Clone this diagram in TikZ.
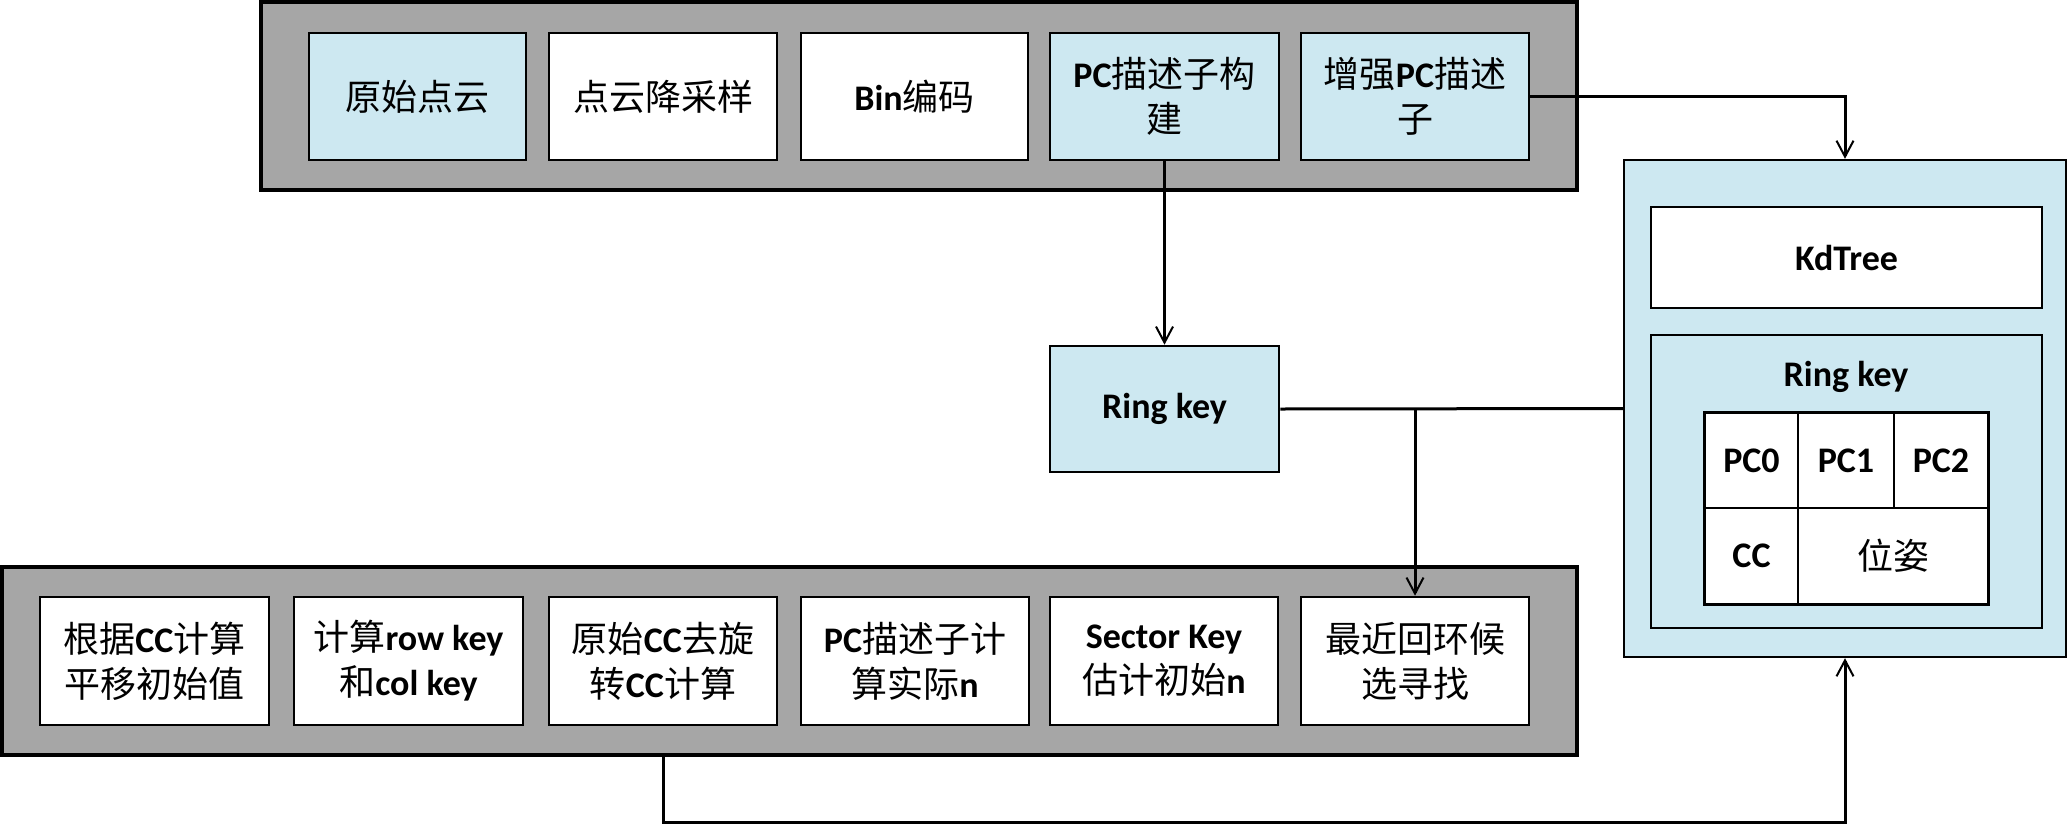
\documentclass[tikz,border=0pt]{standalone}
\usepackage{fontspec}
\setmainfont{Carlito}
\newfontfamily\cjk{Noto Sans CJK SC}
\usetikzlibrary{arrows.meta}
\definecolor{lblue}{RGB}{205,232,241}
\definecolor{pgray}{RGB}{166,166,166}
\newcommand{\zh}[1]{{\cjk\mdseries #1}}
\tikzset{
  base/.style={draw=black, line width=2.6pt, inner sep=0pt, align=center,
    font=\fontsize{36}{45}\selectfont\bfseries},
  bluebox/.style={base, fill=lblue},
  whitebox/.style={base, fill=white},
  panel/.style={draw=black, line width=3.8pt, fill=pgray, inner sep=0pt},
  cell/.style={draw=black, line width=2pt, fill=white, inner sep=0pt,
    font=\fontsize{36}{45}\selectfont\bfseries},
  conn/.style={draw=black, line width=3pt},
  arr/.style={conn, -{Straight Barb[length=16pt,width=17pt,line width=2pt]}},
}
\begin{document}
\begin{tikzpicture}[x=1pt,y=-1pt]
\useasboundingbox (0,0) rectangle (2069,825);
% top panel
\node[panel, minimum width=1316, minimum height=188] (tp) at (919,96) {};
\node[bluebox, minimum width=217, minimum height=127] (b1) at (417.5,96.5) {\zh{原始点云}};
\node[whitebox, minimum width=228, minimum height=127] (b2) at (663,96.5) {\zh{点云降采样}};
\node[whitebox, minimum width=227, minimum height=127] (b3) at (914.5,96.5) {Bin\zh{编码}};
\node[bluebox, minimum width=229, minimum height=127] (b4) at (1164.5,96.5) {PC\zh{描述子构}\\\zh{建}};
\node[bluebox, minimum width=228, minimum height=127] (b5) at (1415,96.5) {\zh{增强}PC\zh{描述}\\\zh{子}};
% middle ring key
\node[bluebox, minimum width=229, minimum height=126] (rk) at (1164.5,409) {Ring key};
% right panel
\node[draw=black, line width=2.4pt, fill=lblue, inner sep=0pt, minimum width=442, minimum height=497] (rp) at (1845,408.5) {};
\node[whitebox, minimum width=391, minimum height=101] (kd) at (1846.5,257.5) {KdTree};
\node[draw=black, line width=2.8pt, fill=lblue, inner sep=0pt, minimum width=391, minimum height=293] (ir) at (1846.5,481.5) {};
\node[font=\fontsize{36}{45}\selectfont\bfseries] (irl) at (1846,377) {Ring key};
\node[cell, minimum width=93, minimum height=95] (pc0) at (1751.5,460.5) {PC0};
\node[cell, minimum width=96, minimum height=95] (pc1) at (1846,460.5) {PC1};
\node[cell, minimum width=94, minimum height=95] (pc2) at (1941,460.5) {PC2};
\node[cell, minimum width=93, minimum height=96] (cc) at (1751.5,556) {CC};
\node[cell, minimum width=190, minimum height=96] (pose) at (1893,556) {\zh{位姿}};
\draw[line width=2.6pt] (pc0.north west) rectangle (pose.south east);
% bottom panel
\node[panel, minimum width=1575, minimum height=188] (bp) at (789.5,661) {};
\node[whitebox, minimum width=229, minimum height=128] (c1) at (154.5,661) {\zh{根据}CC\zh{计算}\\\zh{平移初始值}};
\node[whitebox, minimum width=229, minimum height=128] (c2) at (408.5,661) {\zh{计算}row key\\\zh{和}col key};
\node[whitebox, minimum width=228, minimum height=128] (c3) at (663,661) {\zh{原始}CC\zh{去旋}\\\zh{转}CC\zh{计算}};
\node[whitebox, minimum width=228, minimum height=128] (c4) at (915,661) {PC\zh{描述子计}\\\zh{算实际}n};
\node[whitebox, minimum width=228, minimum height=128] (c5) at (1164,661) {Sector Key\\\zh{估计初始}n};
\node[whitebox, minimum width=228, minimum height=128] (c6) at (1415,661) {\zh{最近回环候}\\\zh{选寻找}};
% connectors
\draw[arr] (b5.east) -| (rp.north);
\draw[arr] (b4.south) -- (rk.north);
\draw[conn] (rk.east) -- (rp.west);
\draw[arr] (rk.east -| c6.north) -- (c6.north);
\coordinate (lowy) at (0,822);
\draw[arr] (bp.south -| c3.south) -- (lowy -| c3.south) -| (rp.south);
\end{tikzpicture}
\end{document}
